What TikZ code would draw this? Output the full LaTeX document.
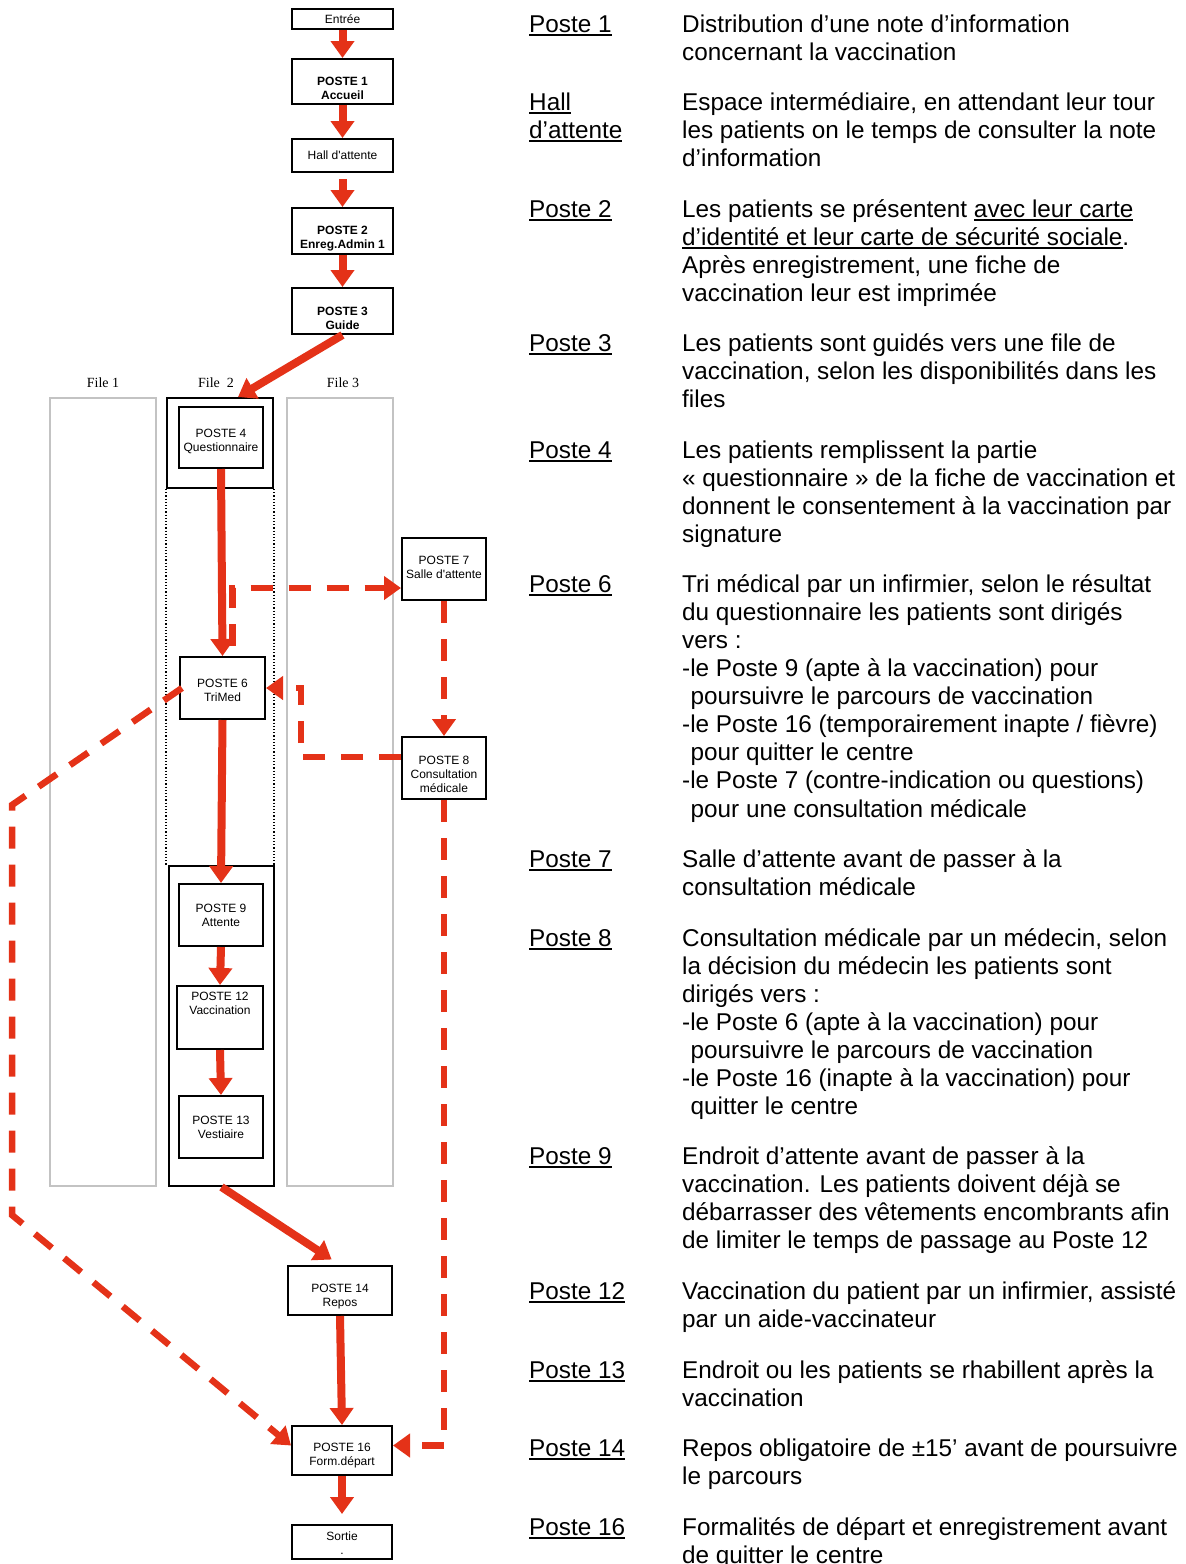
\documentclass[tikz,border=0pt]{standalone}
\usepackage{fontspec}
\setmainfont{Liberation Sans}
\newfontfamily\serifface{Liberation Serif}
\usetikzlibrary{arrows.meta,calc}
\definecolor{flowred}{RGB}{228,50,24}
\definecolor{colgray}{RGB}{195,195,195}
\newcommand\ulx[1]{\setbox0\hbox{#1}\rlap{\rule[-3.5pt]{\wd0}{1.6pt}}\box0}
\newcommand\fst{\rule{0pt}{22pt}}
\begin{document}
\begin{tikzpicture}[x=1pt,y=-1pt,
  box/.style={draw=black,fill=white,line width=2pt,rectangle,inner sep=0pt},
  txt/.style={inner sep=0pt,align=center,font=\fontsize{12}{14}\selectfont},
  btxt/.style={txt,font=\fontsize{12}{14}\selectfont\bfseries},
  col/.style={draw=colgray,line width=2pt,rectangle,inner sep=0pt},
  frame/.style={draw=black,line width=2pt,rectangle,inner sep=0pt},
  flow/.style={color=flowred,line width=8pt,-{Triangle[width=23pt,length=17pt]}},
  dflow/.style={color=flowred,line width=6.5pt,dash pattern=on 22pt off 16pt,-{Triangle[width=23pt,length=17pt]}},
  filelab/.style={font=\serifface\fontsize{14}{16}\selectfont,inner sep=0pt},
  lab/.style={anchor=north west,inner sep=0pt,align=left,font=\fontsize{24.3}{28.1}\selectfont},
]
\useasboundingbox (0,0) rectangle (1186,1564);

% columns
\node[col,minimum width=106pt,minimum height=788pt] (f1) at (103,792) {};
\node[col,minimum width=106pt,minimum height=788pt] (f3) at (340,792) {};
\node[frame,minimum width=106pt,minimum height=90pt] (f2top) at (220,443) {};
\node[frame,minimum width=105pt,minimum height=320pt] (f2bot) at (221.5,1026) {};
\draw[line width=1.2pt,dotted] (f2top.south west) -- (f2bot.north west -| f2top.south west);
\draw[line width=1.2pt,dotted] (f2top.south east) -- (f2bot.north east -| f2top.south east);
\node[filelab] (fl1) at (103,383) {File 1};
\node[filelab] (fl2) at (216,383) {File\ \ 2};
\node[filelab] (fl3) at (343,383) {File 3};

% top chain
\node[box,minimum width=101pt,minimum height=20pt] (entree) at (342.5,19) {};
\node[txt] (entreet) at (entree.center) {Entrée};
\node[box,minimum width=101pt,minimum height=45pt] (p1) at (342.5,81.5) {};
\node[btxt] (p1t) at ([yshift=-7pt]p1.center) {POSTE 1\\Accueil};
\node[box,minimum width=101pt,minimum height=33pt] (hall) at (342.5,155.5) {};
\node[txt] (hallt) at (hall.center) {Hall d\textquotesingle attente};
\node[box,minimum width=101pt,minimum height=46pt] (p2) at (342.5,231) {};
\node[btxt] (p2t) at ([yshift=-8pt]p2.center) {POSTE 2\\Enreg.Admin 1};
\node[box,minimum width=101pt,minimum height=46pt] (p3) at (342.5,311) {};
\node[btxt] (p3t) at ([yshift=-7pt]p3.center) {POSTE 3\\Guide};

% stations
\node[box,minimum width=84pt,minimum height=61pt] (p4) at (221,437.5) {};
\node[txt] (p4t) at ([yshift=-4pt]p4.center) {POSTE 4\\Questionnaire};
\node[box,minimum width=85pt,minimum height=62pt] (p6) at (222.5,688) {};
\node[txt] (p6t) at ([yshift=-2pt]p6.center) {POSTE 6\\TriMed};
\node[box,minimum width=84pt,minimum height=62pt] (p7) at (444,569) {};
\node[txt] (p7t) at ([yshift=2pt]p7.center) {POSTE 7\\Salle d\textquotesingle attente};
\node[box,minimum width=84pt,minimum height=62pt] (p8) at (444,768) {};
\node[txt] (p8t) at ([yshift=-6pt]p8.center) {POSTE 8\\Consultation\\médicale};
\node[box,minimum width=84pt,minimum height=62pt] (p9) at (221,915) {};
\node[txt] (p9t) at (p9.center) {POSTE 9\\Attente};
\node[box,minimum width=86pt,minimum height=63pt] (p12) at (220,1017.5) {};
\node[txt,anchor=north] (p12t) at ([yshift=-7pt]p12.north) {POSTE 12\\Vaccination};
\node[box,minimum width=84pt,minimum height=62pt] (p13) at (221,1127) {};
\node[txt] (p13t) at (p13.center) {POSTE 13\\Vestiaire};
\node[box,minimum width=104pt,minimum height=49pt] (p14) at (340,1290.5) {};
\node[txt] (p14t) at ([yshift=-6pt]p14.center) {POSTE 14\\Repos};
\node[box,minimum width=100pt,minimum height=49pt] (p16) at (342,1450.5) {};
\node[txt] (p16t) at ([yshift=-5pt]p16.center) {POSTE 16\\Form.départ};
\node[box,minimum width=100pt,minimum height=34pt] (sortie) at (342,1542) {};
\node[txt] (sortiet) at ([yshift=-1pt]sortie.center) {Sortie\\.};

% solid flows
\draw[flow] (entree.south) -- (p1.north);
\draw[flow] (p1.south) -- (hall.north);
\draw[flow,shorten <=6pt] (hall.south) -- (p2.north);
\draw[flow] (p2.south) -- (p3.north);
\draw[flow] (p3.south) -- ($(f2top.north)+(18,0)$);
\draw[flow] (p4.south) -- (p6.north);
\draw[flow] (p6.south) -- (p9.north);
\draw[flow] (p9.south) -- (p12.north);
\draw[flow] (p12.south) -- (p13.north);
\draw[flow,shorten >=10pt] (f2bot.south) -- (p14.north);
\draw[flow] (p14.south) -- (p16.north);
\draw[flow,shorten >=10pt] (p16.south) -- (sortie.north);

% dashed flows
\draw[dflow] ([xshift=10pt,yshift=10pt]p6.north) |- ([yshift=-19pt]p7.west);
\draw[dflow] (p7.south) -- (p8.north);
\draw[dflow] ([yshift=11pt]p8.west) -- ++(-100,0) |- (p6.east);
\coordinate (c1) at (12,805);
\coordinate (c2) at (12,1215);
\draw[dflow] ([xshift=3pt]p6.west) -- (c1) -- (c2) -- ([yshift=5pt]p16.west);
\draw[dflow] (p8.south) |- ([yshift=5pt]p16.east);

% legend (first baselines: y+22 of the node top)
\node[lab] (t1) at (529,10) {\fst\ulx{Poste 1}};
\node[lab] (d1) at (682,10) {\fst Distribution d’une note d’information\\concernant la vaccination};
\node[lab] (t2) at (529,88) {\fst\ulx{Hall}\\\ulx{d’attente}};
\node[lab] (d2) at (682,88) {\fst Espace intermédiaire, en attendant leur tour\\les patients on le temps de consulter la note\\d’information};
\node[lab] (t3) at (529,195) {\fst\ulx{Poste 2}};
\node[lab] (d3) at (682,195) {\fst Les patients se présentent \ulx{avec leur carte}\\\ulx{d’identité et leur carte de sécurité sociale}.\\Après enregistrement, une fiche de\\vaccination leur est imprimée};
\node[lab] (t4) at (529,329) {\fst\ulx{Poste 3}};
\node[lab] (d4) at (682,329) {\fst Les patients sont guidés vers une file de\\vaccination, selon les disponibilités dans les\\files};
\node[lab] (t5) at (529,436) {\fst\ulx{Poste 4}};
\node[lab] (d5) at (682,436) {\fst Les patients remplissent la partie\\« questionnaire » de la fiche de vaccination et\\donnent le consentement à la vaccination par\\signature};
\node[lab] (t6) at (529,570) {\fst\ulx{Poste 6}};
\node[lab] (d6) at (682,570) {\fst Tri médical par un infirmier, selon le résultat\\du questionnaire les patients sont dirigés\\vers :\\-le Poste 9 (apte à la vaccination) pour\\\hspace*{0.35em}poursuivre le parcours de vaccination\\-le Poste 16 (temporairement inapte / fièvre)\\\hspace*{0.35em}pour quitter le centre\\-le Poste 7 (contre-indication ou questions)\\\hspace*{0.35em}pour une consultation médicale};
\node[lab] (t7) at (529,845) {\fst\ulx{Poste 7}};
\node[lab] (d7) at (682,845) {\fst Salle d’attente avant de passer à la\\consultation médicale};
\node[lab] (t8) at (529,924) {\fst\ulx{Poste 8}};
\node[lab] (d8) at (682,924) {\fst Consultation médicale par un médecin, selon\\la décision du médecin les patients sont\\dirigés vers :\\-le Poste 6 (apte à la vaccination) pour\\\hspace*{0.35em}poursuivre le parcours de vaccination\\-le Poste 16 (inapte à la vaccination) pour\\\hspace*{0.35em}quitter le centre};
\node[lab] (t9) at (529,1142) {\fst\ulx{Poste 9}};
\node[lab] (d9) at (682,1142) {\fst Endroit d’attente avant de passer à la\\vaccination. Les patients doivent déjà se\\débarrasser des vêtements encombrants afin\\de limiter le temps de passage au Poste 12};
\node[lab] (t10) at (529,1277) {\fst\ulx{Poste 12}};
\node[lab] (d10) at (682,1277) {\fst Vaccination du patient par un infirmier, assisté\\par un aide-vaccinateur};
\node[lab] (t11) at (529,1356) {\fst\ulx{Poste 13}};
\node[lab] (d11) at (682,1356) {\fst Endroit ou les patients se rhabillent après la\\vaccination};
\node[lab] (t12) at (529,1434) {\fst\ulx{Poste 14}};
\node[lab] (d12) at (682,1434) {\fst Repos obligatoire de ±15’ avant de poursuivre\\le parcours};
\node[lab] (t13) at (529,1513) {\fst\ulx{Poste 16}};
\node[lab] (d13) at (682,1513) {\fst Formalités de départ et enregistrement avant\\de quitter le centre};
\end{tikzpicture}
\end{document}
